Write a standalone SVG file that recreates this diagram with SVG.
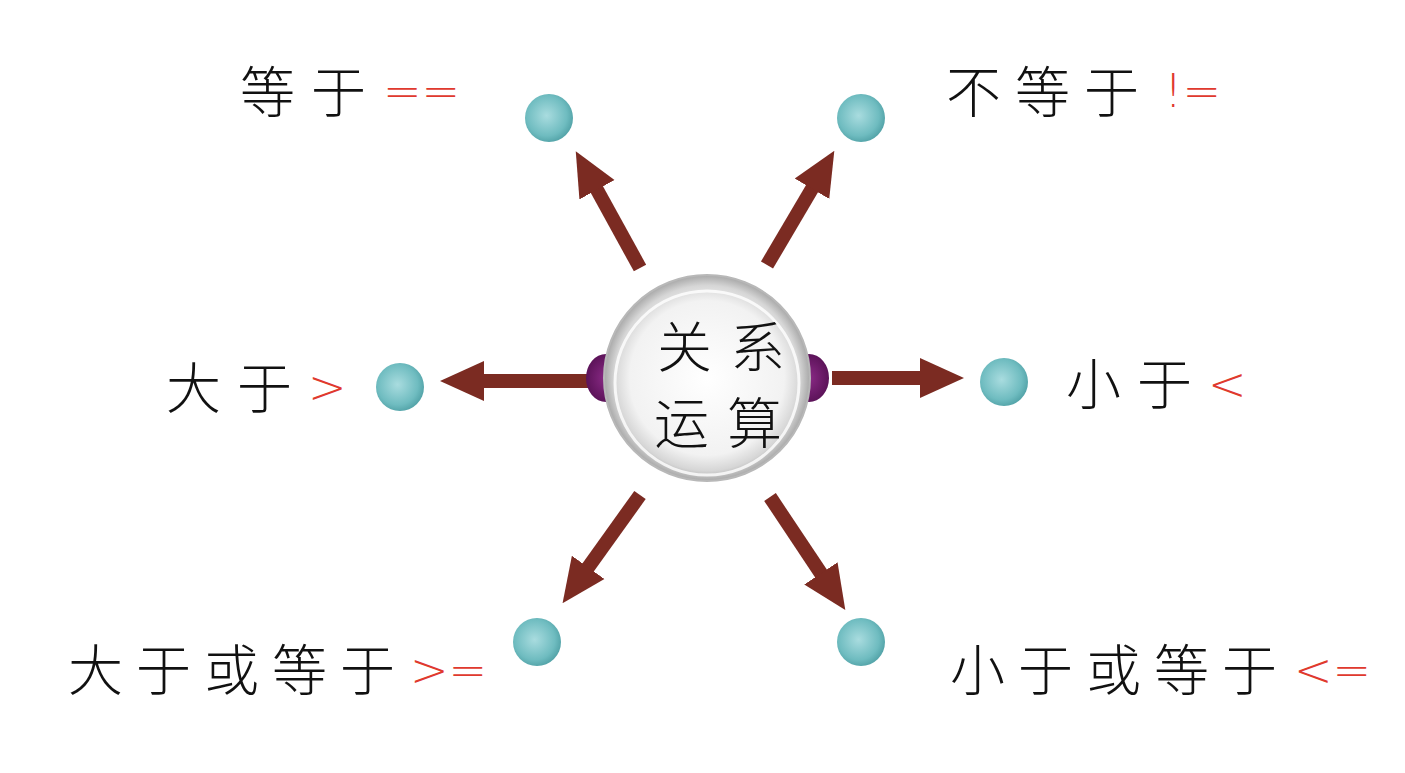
<svg xmlns="http://www.w3.org/2000/svg" width="1405" height="773" viewBox="0 0 1405 773">
<style>
.cn{font-family:"Noto Sans CJK SC","Noto Sans CJK JP",sans-serif;font-weight:300;fill:#111;font-size:55px}
.op{font-family:"DejaVu Sans","Liberation Sans",sans-serif;font-weight:300;fill:#e0392e;font-size:46px}
.arr{stroke:#7b2b22;stroke-width:14;fill:none;marker-end:url(#head)}
</style>
<defs>
<marker id="head" markerUnits="userSpaceOnUse" markerWidth="44" markerHeight="44" refX="2" refY="22" orient="auto" viewBox="0 0 44 44">
<path d="M0,2 L44,22 L0,42 Z" fill="#7b2b22"/>
</marker>
<radialGradient id="ball" cx="0.45" cy="0.45" r="0.6">
<stop offset="0" stop-color="#a9dcdf"/>
<stop offset="0.7" stop-color="#6fbcc0"/>
<stop offset="1" stop-color="#4d9ea3"/>
</radialGradient>
<radialGradient id="silver" cx="0.5" cy="0.5" r="0.5">
<stop offset="0" stop-color="#ffffff"/>
<stop offset="0.75" stop-color="#f2f2f2"/>
<stop offset="0.9" stop-color="#d6d6d6"/>
<stop offset="1" stop-color="#a8a8a8"/>
</radialGradient>
<radialGradient id="purple" cx="0.5" cy="0.5" r="0.5">
<stop offset="0" stop-color="#8a2a86"/>
<stop offset="1" stop-color="#5c1359"/>
</radialGradient>
</defs>
<rect width="1405" height="773" fill="#ffffff"/>
<g id="connectors">
<line class="arr" x1="640" y1="268" x2="596" y2="188"/>
<line class="arr" x1="767" y1="265" x2="813" y2="187"/>
<line class="arr" x1="590" y1="381" x2="482" y2="381"/>
<line class="arr" x1="832" y1="378" x2="922" y2="378"/>
<line class="arr" x1="640" y1="495" x2="587" y2="569"/>
<line class="arr" x1="770" y1="497" x2="822" y2="575"/>
</g>
<g id="center">
<ellipse cx="606" cy="378" rx="20" ry="24" fill="url(#purple)"/>
<ellipse cx="809" cy="378" rx="20" ry="24" fill="url(#purple)"/>
<circle cx="707" cy="378" r="103" fill="url(#silver)" stroke="#b8b8b8" stroke-width="2"/>
<circle cx="707" cy="383" r="92" fill="none" stroke="#ffffff" stroke-width="3" opacity="0.8"/>
<text class="cn" x="657" y="367" font-size="43" letter-spacing="18">关系</text>
<text class="cn" x="654" y="443" font-size="43" letter-spacing="18">运算</text>
</g>
<g id="n-eq">
<circle cx="549" cy="118" r="24" fill="url(#ball)"/>
<text class="cn" x="240" y="112" letter-spacing="16">等于</text>
<text class="op" x="383" y="107" font-size="58">==</text>
</g>
<g id="n-ne">
<circle cx="861" cy="118" r="24" fill="url(#ball)"/>
<text class="cn" x="946" y="112" letter-spacing="14">不等于</text>
<text class="op" x="1164" y="107" font-size="50">!=</text>
</g>
<g id="n-gt">
<circle cx="400" cy="387" r="24" fill="url(#ball)"/>
<text class="cn" x="166" y="408" letter-spacing="16">大于</text>
<text class="op" x="308" y="403">&gt;</text>
</g>
<g id="n-lt">
<circle cx="1004" cy="382" r="24" fill="url(#ball)"/>
<text class="cn" x="1066" y="404" letter-spacing="16">小于</text>
<text class="op" x="1208" y="400">&lt;</text>
</g>
<g id="n-ge">
<circle cx="537" cy="642" r="24" fill="url(#ball)"/>
<text class="cn" x="68" y="690" letter-spacing="13">大于或等于</text>
<text class="op" x="410" y="686">&gt;=</text>
</g>
<g id="n-le">
<circle cx="861" cy="642" r="24" fill="url(#ball)"/>
<text class="cn" x="950" y="690" letter-spacing="13">小于或等于</text>
<text class="op" x="1294" y="686">&lt;=</text>
</g>
</svg>
